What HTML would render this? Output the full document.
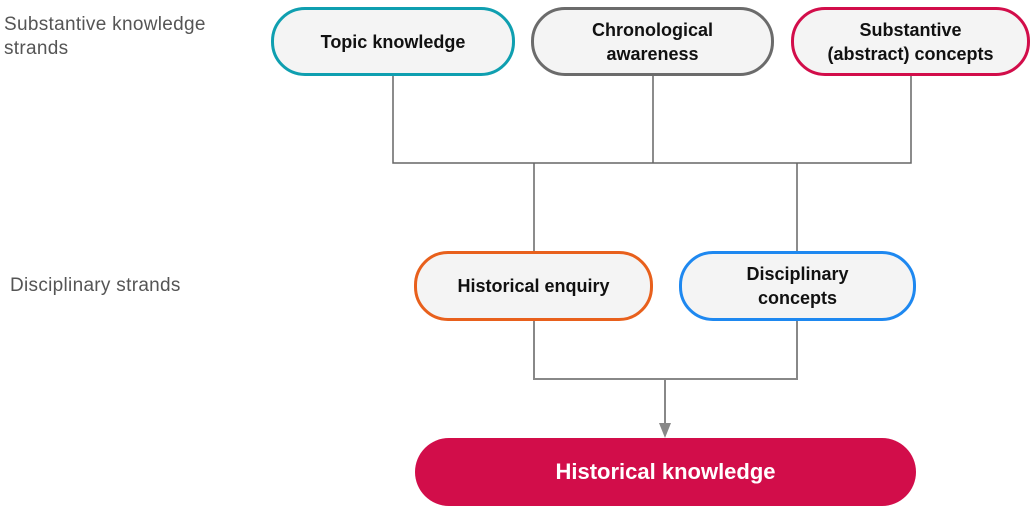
<!DOCTYPE html>
<html><head><style>
body{margin:0;width:1031px;height:516px;background:#fff;position:relative;overflow:hidden;font-family:"Liberation Sans",sans-serif}
.b{position:absolute;box-sizing:border-box;border-radius:34px;background:#f4f4f4;border:3px solid;display:flex;align-items:center;justify-content:center;text-align:center;font-weight:bold;font-size:18px;line-height:24px;color:#111}
.l{position:absolute;color:#555;font-size:19px;line-height:24px;letter-spacing:0.3px}
</style></head><body>
<svg width="1031" height="516" style="position:absolute;left:0;top:0">
<g stroke="#666" stroke-width="1.5" fill="none">
<path d="M393 75V163H911V75M653 75V163M534 163V252M797 163V252"/>
<path d="M534 320V379H797V320M665 379V425" stroke="#888" stroke-width="2"/>
</g>
<polygon points="659,423 671,423 665,438" fill="#888"/>
</svg>
<div class="l" style="left:4px;top:13px">Substantive knowledge<br>strands</div>
<div class="l" style="left:10px;top:274px">Disciplinary strands</div>
<div class="b" style="left:271px;top:7px;width:244px;height:69px;border-color:#0f9fb0">Topic knowledge</div>
<div class="b" style="left:531px;top:7px;width:243px;height:69px;border-color:#6b6b6b">Chronological<br>awareness</div>
<div class="b" style="left:791px;top:7px;width:239px;height:69px;border-color:#d20d4a">Substantive<br>(abstract) concepts</div>
<div class="b" style="left:414px;top:251px;width:239px;height:70px;border-color:#e8601c">Historical enquiry</div>
<div class="b" style="left:679px;top:251px;width:237px;height:70px;border-color:#1e88f0">Disciplinary<br>concepts</div>
<div class="b" style="left:415px;top:438px;width:501px;height:68px;border:none;background:#d20d4a;color:#fff;font-size:22px">Historical knowledge</div>
</body></html>
